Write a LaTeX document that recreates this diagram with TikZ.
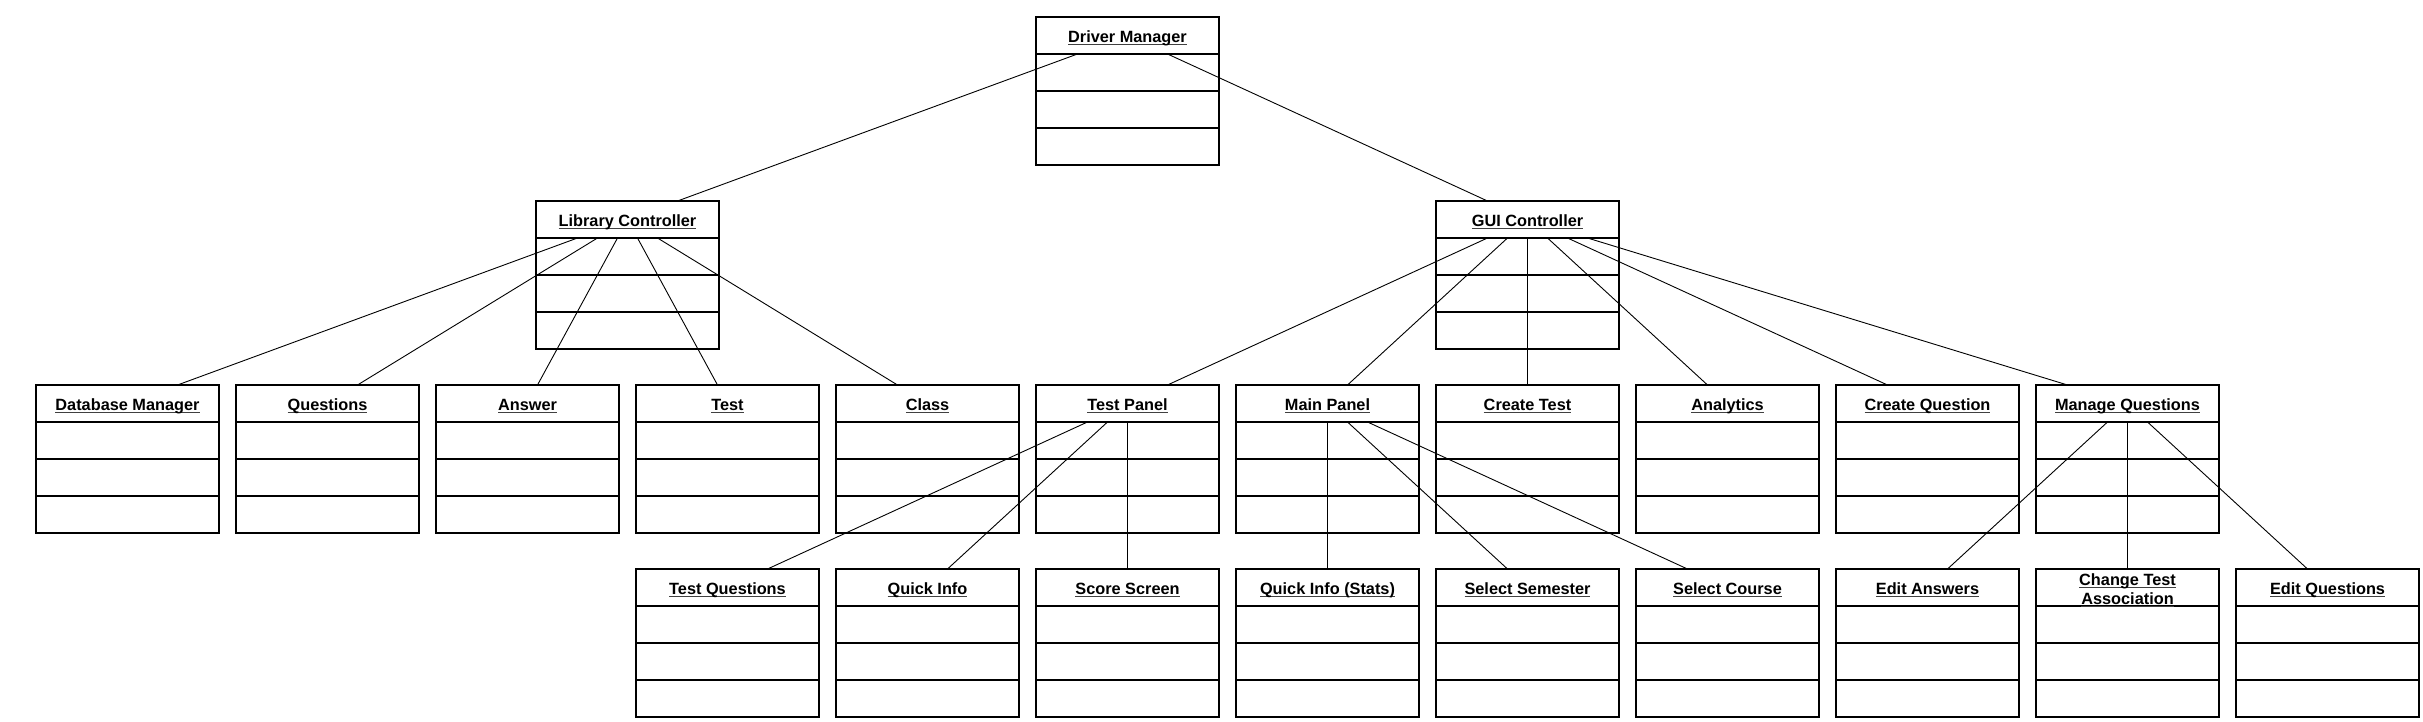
\documentclass[tikz,border=0pt]{standalone}
\usepackage{fontspec}
\setmainfont{Liberation Sans}
\newcommand\myul[1]{\setbox0\hbox{#1}\rlap{\color{black!75}\rule[-3pt]{\wd0}{1.4pt}}\box0}
\newcommand\umlbare[3]{%
  \node[classbox, anchor=north west] (#1) at (#2,-#3) {};
  \draw[rowline] ([yshift=-37pt]#1.north west) -- ([yshift=-37pt]#1.north east);
  \draw[rowline] ([yshift=-74pt]#1.north west) -- ([yshift=-74pt]#1.north east);
  \draw[rowline] ([yshift=-111pt]#1.north west) -- ([yshift=-111pt]#1.north east);
}
\newcommand\umlbox[4]{%
  \umlbare{#1}{#2}{#3}
  \node[classlabel] (#1-label) at ([yshift=-25.2pt]#1.north) {\myul{#4}};
}
\newcommand\conn[4]{% parent, x offset at parent, child, x offset at child
  \draw[connline] ([xshift=#2pt,yshift=-37pt]#1.north) -- ([xshift=#4pt]#3.north);
}
\tikzset{
  classbox/.style={draw=black, fill=white, line width=1.4pt, minimum width=183pt, minimum height=148pt, inner sep=0pt, outer sep=0pt},
  rowline/.style={draw=black, line width=1.4pt},
  classlabel/.style={font=\fontsize{16.3}{19}\selectfont\bfseries, inner sep=0pt, anchor=base},
  connline/.style={draw=black, line width=0.9pt}
}
\begin{document}
\begin{tikzpicture}[x=1pt,y=1pt]
\useasboundingbox (0,0) rectangle (2423,-722);
% row 1
\umlbox{dm}{1036}{17}{Driver Manager}
% row 2
\umlbox{lc}{536}{201}{Library Controller}
\umlbox{gui}{1436}{201}{GUI Controller}
% row 3
\umlbox{db}{36}{385}{Database Manager}
\umlbox{qs}{236}{385}{Questions}
\umlbox{ans}{436}{385}{Answer}
\umlbox{test}{636}{385}{Test}
\umlbox{cls}{836}{385}{Class}
\umlbox{tp}{1036}{385}{Test Panel}
\umlbox{mp}{1236}{385}{Main Panel}
\umlbox{ct}{1436}{385}{Create Test}
\umlbox{an}{1636}{385}{Analytics}
\umlbox{cq}{1836}{385}{Create Question}
\umlbox{mq}{2036}{385}{Manage Questions}
% row 4
\umlbox{tq}{636}{569}{Test Questions}
\umlbox{qi}{836}{569}{Quick Info}
\umlbox{ss}{1036}{569}{Score Screen}
\umlbox{qis}{1236}{569}{Quick Info (Stats)}
\umlbox{sem}{1436}{569}{Select Semester}
\umlbox{sc}{1636}{569}{Select Course}
\umlbox{ea}{1836}{569}{Edit Answers}
\umlbare{cta}{2036}{569}
\node[classlabel] (cta-label1) at ([yshift=-16.2pt]cta.north) {\myul{Change Test}};
\node[classlabel] (cta-label2) at ([yshift=-35.2pt]cta.north) {\myul{Association}};
\umlbox{eq}{2236}{569}{Edit Questions}
% connectors
\conn{dm}{-50}{lc}{50}
\conn{dm}{40}{gui}{-40}
\conn{lc}{-50}{db}{50}
\conn{lc}{-30}{qs}{30}
\conn{lc}{-10}{ans}{10}
\conn{lc}{10}{test}{-10}
\conn{lc}{30}{cls}{-30}
\conn{gui}{-40}{tp}{40}
\conn{gui}{-20}{mp}{20}
\conn{gui}{0}{ct}{0}
\conn{gui}{20}{an}{-20}
\conn{gui}{40}{cq}{-40}
\conn{gui}{60}{mq}{-60}
\conn{tp}{-40}{tq}{40}
\conn{tp}{-20}{qi}{20}
\conn{tp}{0}{ss}{0}
\conn{mp}{0}{qis}{0}
\conn{mp}{20}{sem}{-20}
\conn{mp}{40}{sc}{-40}
\conn{mq}{-20}{ea}{20}
\conn{mq}{0}{cta}{0}
\conn{mq}{20}{eq}{-20}
\end{tikzpicture}
\end{document}
